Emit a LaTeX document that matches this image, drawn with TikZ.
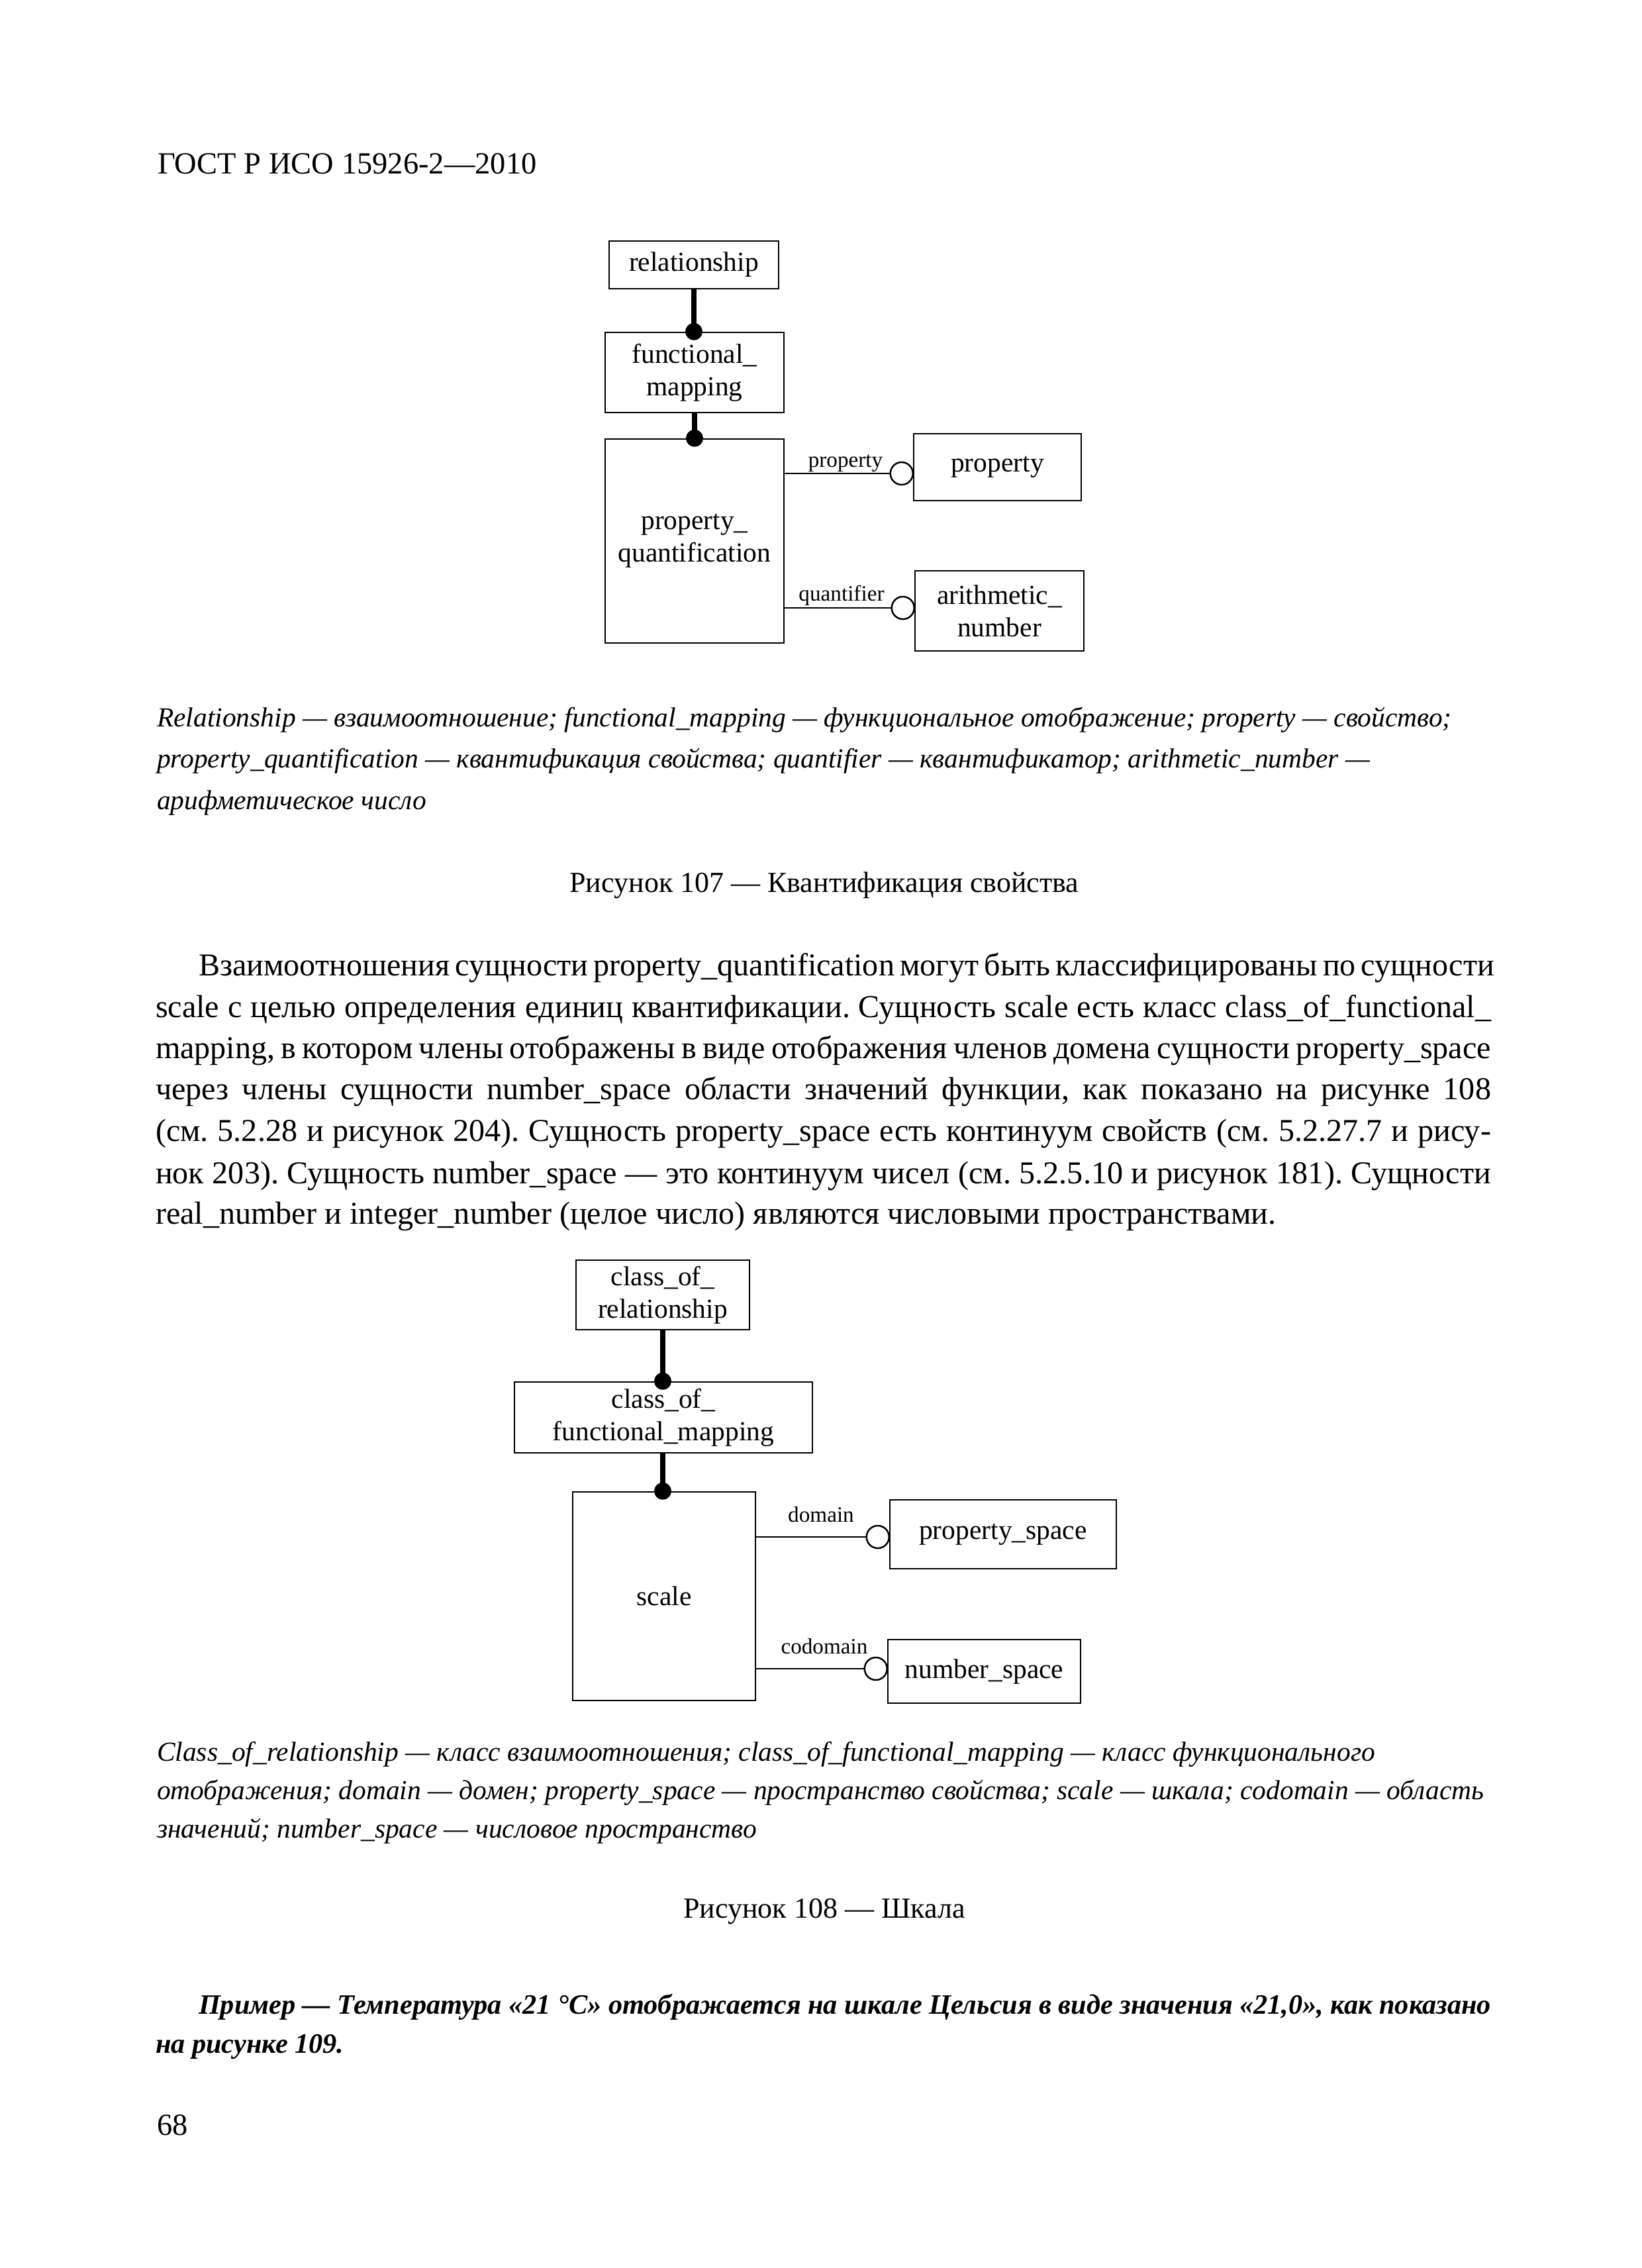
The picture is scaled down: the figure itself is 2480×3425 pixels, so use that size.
\documentclass[tikz,border=0pt]{standalone}
\usepackage{fontspec}
\setmainfont{Liberation Serif}
\usetikzlibrary{calc}
\frenchspacing
\newdimen\pxu \pxu=0.24090pt
\newcommand\jrow[1]{\hbox to 2017\pxu{#1}}
\newcommand\jrowi[1]{\hbox to 2017\pxu{\hskip65\pxu #1}}
\begin{document}
\begin{tikzpicture}[x=\pxu,y=-\pxu,
  txt/.style={anchor=base west,inner sep=0pt,outer sep=0pt},
  bodytxt/.style={txt,font=\fontsize{11.6}{13}\selectfont},
  extxt/.style={txt,font=\fontsize{10.2}{12}\selectfont\bfseries\itshape},
  captxt/.style={txt,font=\fontsize{10}{12}\selectfont\itshape},
  ttl/.style={anchor=base,inner sep=0pt,font=\fontsize{10.6}{13}\selectfont},
  ent/.style={draw,line width=0.6pt,inner sep=0pt,align=center,font=\fontsize{10}{11.8}\selectfont},
  role/.style={anchor=base,inner sep=0pt,font=\fontsize{8}{9}\selectfont},
  heavy/.style={line width=8\pxu},
  link/.style={line width=0.5pt},
  dotend/.style={fill=black},
  ringend/.style={draw,fill=white,line width=0.6pt}]
\fill[white] (0,0) rectangle (2480,3425);
\useasboundingbox (0,0) rectangle (2480,3425);

% header
\node[txt,font=\fontsize{11.2}{13}\selectfont] (hdr) at (238,262) {ГОСТ Р ИСО 15926-2—2010};

% ---------- figure 107 ----------
\node[ent,minimum width=256\pxu,minimum height=72\pxu] (rel) at (1048,400) {relationship};
\node[ent,minimum width=270\pxu,minimum height=121\pxu] (fm) at (1049,562.5) {functional\_\\mapping};
\node[ent,minimum width=270\pxu,minimum height=308\pxu] (pq) at (1049,817) {property\_\\quantification};
\node[ent,minimum width=253\pxu,minimum height=101\pxu] (prop) at (1506.5,705.5) {property};
\node[ent,minimum width=255\pxu,minimum height=121\pxu] (arith) at (1509.5,922.5) {arithmetic\_\\number};
\coordinate (l1) at (0,715);
\coordinate (l2) at (0,918);

\draw[heavy] (rel.south) -- (rel.south |- fm.north);
\fill[dotend] (rel.south |- fm.north) circle[radius=13\pxu];
\draw[heavy] (fm.south) -- (fm.south |- pq.north);
\fill[dotend] (fm.south |- pq.north) circle[radius=13\pxu];

\draw[link] (pq.east |- l1) -- (prop.west |- l1);
\draw[ringend] ($(prop.west |- l1)+(-17,0)$) circle[radius=17\pxu];
\node[role] (rprop) at (1277,705) {property};
\draw[link] (pq.east |- l2) -- (arith.west |- l2);
\draw[ringend] ($(arith.west |- l2)+(-17,0)$) circle[radius=17\pxu];
\node[role] (rquant) at (1271,907) {quantifier};

% caption 107
\node[captxt] (c1a) at (237,1097) {Relationship — взаимоотношение; functional\_mapping — функциональное отображение; property — свойство;};
\node[captxt] (c1b) at (237,1159) {property\_quantification — квантификация свойства; quantifier — квантификатор; arithmetic\_number —};
\node[captxt] (c1c) at (237,1222) {арифметическое число};
\node[ttl] (t1) at (1245,1347) {Рисунок 107 — Квантификация свойства};

% body text
\node[bodytxt] (b1) at (235,1473) {\jrowi{Взаимоотношения сущности property\_quantification могут быть классифицированы по сущности}};
\node[bodytxt] (b2) at (235,1536) {\jrow{scale с целью определения единиц квантификации. Сущность scale есть класс class\_of\_functional\_}};
\node[bodytxt] (b3) at (235,1598) {\jrow{mapping, в котором члены отображены в виде отображения членов домена сущности property\_space}};
\node[bodytxt] (b4) at (235,1660) {\jrow{через члены сущности number\_space области значений функции, как показано на рисунке 108}};
\node[bodytxt] (b5) at (235,1723) {\jrow{(см. 5.2.28 и рисунок 204). Сущность property\_space есть континуум свойств (см. 5.2.27.7 и рису-}};
\node[bodytxt] (b6) at (235,1787) {\jrow{нок 203). Сущность number\_space — это континуум чисел (см. 5.2.5.10 и рисунок 181). Сущности}};
\node[bodytxt] (b7) at (235,1848) {real\_number и integer\_number (целое число) являются числовыми пространствами.};

% ---------- figure 108 ----------
\node[ent,minimum width=262\pxu,minimum height=105\pxu] (cor) at (1001,1955.5) {class\_of\_\\relationship};
\node[ent,minimum width=450\pxu,minimum height=107\pxu] (cofm) at (1002,2140.5) {class\_of\_\\functional\_mapping};
\node[ent,minimum width=276\pxu,minimum height=315\pxu] (scale) at (1003,2410.5) {scale};
\node[ent,minimum width=342\pxu,minimum height=104\pxu] (ps) at (1515,2317) {property\_space};
\node[ent,minimum width=291\pxu,minimum height=96\pxu] (ns) at (1486.5,2524) {number\_space};
\coordinate (l3) at (0,2321);
\coordinate (l4) at (0,2520);

\draw[heavy] (cor.south) -- (cor.south |- cofm.north);
\fill[dotend] (cor.south |- cofm.north) circle[radius=13\pxu];
\draw[heavy] (cor.south |- cofm.south) -- (cor.south |- scale.north);
\fill[dotend] (cor.south |- scale.north) circle[radius=13\pxu];

\draw[link] (scale.east |- l3) -- (ps.west |- l3);
\draw[ringend] ($(ps.west |- l3)+(-17,0)$) circle[radius=17\pxu];
\node[role] (rdom) at (1240,2298) {domain};
\draw[link] (scale.east |- l4) -- (ns.west |- l4);
\draw[ringend] ($(ns.west |- l4)+(-17,0)$) circle[radius=17\pxu];
\node[role] (rcodom) at (1245,2497) {codomain};

% caption 108
\node[captxt] (c2a) at (237,2659) {Class\_of\_relationship — класс взаимоотношения; class\_of\_functional\_mapping — класс функционального};
\node[captxt] (c2b) at (237,2717) {отображения; domain — домен; property\_space — пространство свойства; scale — шкала; codomain — область};
\node[captxt] (c2c) at (237,2775) {значений; number\_space — числовое пространство};
\node[ttl] (t2) at (1245,2896) {Рисунок 108 — Шкала};

% example
\node[extxt] (e1) at (235,3041) {\jrowi{Пример — Температура «21 °C» отображается на шкале Цельсия в виде значения «21,0», как показано}};
\node[extxt] (e2) at (235,3100) {на рисунке 109.};

% page number
\node[txt,font=\fontsize{11.2}{13}\selectfont] (pg) at (237,3224) {68};
\end{tikzpicture}
\end{document}
